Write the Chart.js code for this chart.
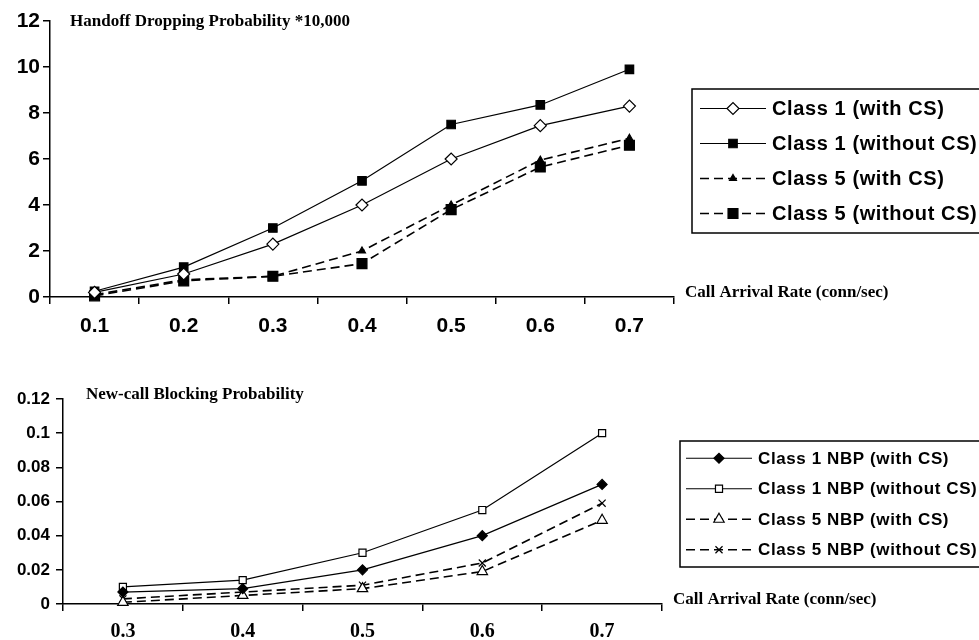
<!DOCTYPE html>
<html lang="en">
<head>
<meta charset="UTF-8">
<title>Handoff Dropping / New-call Blocking</title>
<script src="https://cdn.jsdelivr.net/npm/chart.js"></script>
<style>
  body { margin: 0; background: #fff; }
  #wrap { position: relative; width: 979px; height: 640px; }
  canvas { position: absolute; left: 0; }
</style>
</head>
<body>
<div id="wrap">
  <canvas id="hdpChart" width="979" height="340" style="top:0"></canvas>
  <canvas id="nbpChart" width="979" height="300" style="top:340px"></canvas>
</div>

<script>
// top chart: handoff dropping probability (*10,000)
const rateTop = ['0.1', '0.2', '0.3', '0.4', '0.5', '0.6', '0.7'];
const hdpClass1With = [0.2, 1.0, 2.3, 4.0, 6.0, 7.45, 8.3];
const hdpClass1Without = [0.25, 1.3, 3.0, 5.05, 7.5, 8.35, 9.9];
const hdpClass5With = [0.1, 0.75, 0.9, 2.0, 4.0, 5.95, 6.9];
const hdpClass5Without = [0.05, 0.7, 0.9, 1.45, 3.8, 5.65, 6.6];

// bottom chart: new-call blocking probability
const rateBottom = ['0.3', '0.4', '0.5', '0.6', '0.7'];
const nbpClass1With = [0.007, 0.009, 0.02, 0.04, 0.07];
const nbpClass1Without = [0.01, 0.014, 0.03, 0.055, 0.1];
const nbpClass5With = [0.001, 0.005, 0.009, 0.019, 0.049];
const nbpClass5Without = [0.003, 0.007, 0.011, 0.024, 0.059];

const SANS = "'Liberation Sans', Arial, sans-serif";
const SERIF = "'Liberation Serif', 'Times New Roman', serif";

function series(label, data, style, radius, filled, dashed) {
    return {
        label: label,
        data: data,
        borderColor: '#000',
        borderWidth: dashed ? 1.6 : 1.2,
        borderDash: dashed ? [9, 5] : [],
        pointStyle: style,
        pointRadius: radius,
        pointHoverRadius: radius,
        pointBackgroundColor: filled ? '#000' : '#fff',
        pointBorderColor: '#000',
        pointBorderWidth: 1.2,
        tension: 0,
        fill: false,
        clip: false
    };
}

// titles, axis caption and boxed legend drawn next to the plot
const decorPlugin = {
    id: 'decor',
    afterDraw(chart, args, opts) {
        const ctx = chart.ctx;
        const a = chart.chartArea;
        ctx.save();
        ctx.fillStyle = '#000';
        ctx.font = 'bold 17px ' + SERIF;
        ctx.textBaseline = 'middle';
        ctx.textAlign = 'left';
        ctx.fillText(opts.title, a.left + opts.titleDx, a.top + opts.titleDy);
        ctx.fillText('Call Arrival Rate (conn/sec)', a.right + 11, a.bottom - 4);

        // legend box
        const bx = a.right + 18, by = opts.boxTop, bh = opts.rowGap * 4 + 4;
        ctx.fillStyle = '#fff';
        ctx.fillRect(bx, by, 400, bh);
        ctx.strokeStyle = '#000';
        ctx.lineWidth = 1.5;
        ctx.strokeRect(bx, by, 400, bh);

        chart.data.datasets.forEach((ds, i) => {
            const y = by + opts.rowGap / 2 + 2 + i * opts.rowGap;
            ctx.strokeStyle = '#000';
            ctx.lineWidth = ds.borderWidth;
            ctx.setLineDash(ds.borderDash);
            ctx.beginPath();
            ctx.moveTo(bx + opts.lineFrom, y);
            ctx.lineTo(bx + opts.lineTo, y);
            ctx.stroke();
            ctx.setLineDash([]);
            ctx.fillStyle = ds.pointBackgroundColor;
            ctx.lineWidth = 1.2;
            Chart.helpers.drawPoint(ctx, {
                pointStyle: ds.pointStyle,
                radius: ds.pointRadius,
                rotation: 0,
                borderWidth: 1.2
            }, bx + (opts.lineFrom + opts.lineTo) / 2, y);
            ctx.fillStyle = '#000';
            ctx.font = 'bold ' + opts.legendSize + 'px ' + SANS;
            ctx.letterSpacing = '0.6px';
            ctx.fillText(ds.label, bx + opts.lineTo + 6, y + 1);
            ctx.letterSpacing = '0px';
        });
        ctx.restore();
    }
};

function makeOptions(cfg) {
    return {
        responsive: false,
        animation: false,
        events: [],
        layout: { padding: { left: 0, right: cfg.padRight, top: cfg.padTop, bottom: 0 } },
        plugins: {
            legend: { display: false },
            tooltip: { enabled: false },
            decor: cfg.decor
        },
        scales: {
            x: {
                offset: true,
                grid: { offset: true, drawOnChartArea: false, tickLength: 7, color: '#000', lineWidth: 1.5 },
                border: { color: '#000', width: 1.5 },
                ticks: { color: '#000', padding: cfg.xPad, font: cfg.xFont, maxRotation: 0 },
                afterFit: s => { s.height = cfg.xHeight; }
            },
            y: {
                min: 0,
                max: cfg.yMax,
                grid: { drawOnChartArea: false, tickLength: 7, color: '#000', lineWidth: 1.5 },
                border: { color: '#000', width: 1.5 },
                ticks: {
                    stepSize: cfg.yStep,
                    color: '#000',
                    padding: cfg.yPad,
                    font: cfg.yFont,
                    callback: v => String(+v.toFixed(2))
                },
                afterFit: s => { s.width = cfg.yWidth; }
            }
        }
    };
}

new Chart(document.getElementById('hdpChart'), {
    type: 'line',
    data: {
        labels: rateTop,
        datasets: [
            series('Class 1 (with CS)', hdpClass1With, 'rectRot', 6, false, false),
            series('Class 1 (without CS)', hdpClass1Without, 'rect', 6, true, false),
            series('Class 5 (with CS)', hdpClass5With, 'triangle', 4, true, true),
            series('Class 5 (without CS)', hdpClass5Without, 'rect', 7, true, true)
        ]
    },
    options: makeOptions({
        padRight: 979 - 674,
        padTop: 21,
        xHeight: 43,
        yWidth: 50,
        xPad: 10,
        yPad: 3,
        yMax: 12,
        yStep: 2,
        xFont: { family: SANS, size: 21, weight: 'bold' },
        yFont: { family: SANS, size: 21, weight: 'bold' },
        decor: {
            title: 'Handoff Dropping Probability *10,000',
            titleDx: 20, titleDy: 1,
            boxTop: 89, rowGap: 35,
            lineFrom: 8, lineTo: 74, legendSize: 20
        }
    }),
    plugins: [decorPlugin]
});

new Chart(document.getElementById('nbpChart'), {
    type: 'line',
    data: {
        labels: rateBottom,
        datasets: [
            series('Class 1 NBP (with CS)', nbpClass1With, 'rectRot', 5, true, false),
            series('Class 1 NBP (without CS)', nbpClass1Without, 'rect', 5, false, false),
            series('Class 5 NBP (with CS)', nbpClass5With, 'triangle', 6, false, true),
            series('Class 5 NBP (without CS)', nbpClass5Without, 'crossRot', 5, false, true)
        ]
    },
    options: makeOptions({
        padRight: 979 - 662,
        padTop: 59,
        xHeight: 36,
        yWidth: 63,
        xPad: 9,
        yPad: 6,
        yMax: 0.12,
        yStep: 0.02,
        xFont: { family: SERIF, size: 20, weight: 'bold' },
        yFont: { family: SANS, size: 17, weight: 'bold' },
        decor: {
            title: 'New-call Blocking Probability',
            titleDx: 23, titleDy: -4,
            boxTop: 441 - 340, rowGap: 30.5,
            lineFrom: 6, lineTo: 72, legendSize: 17
        }
    }),
    plugins: [decorPlugin]
});
</script>
</body>
</html>
